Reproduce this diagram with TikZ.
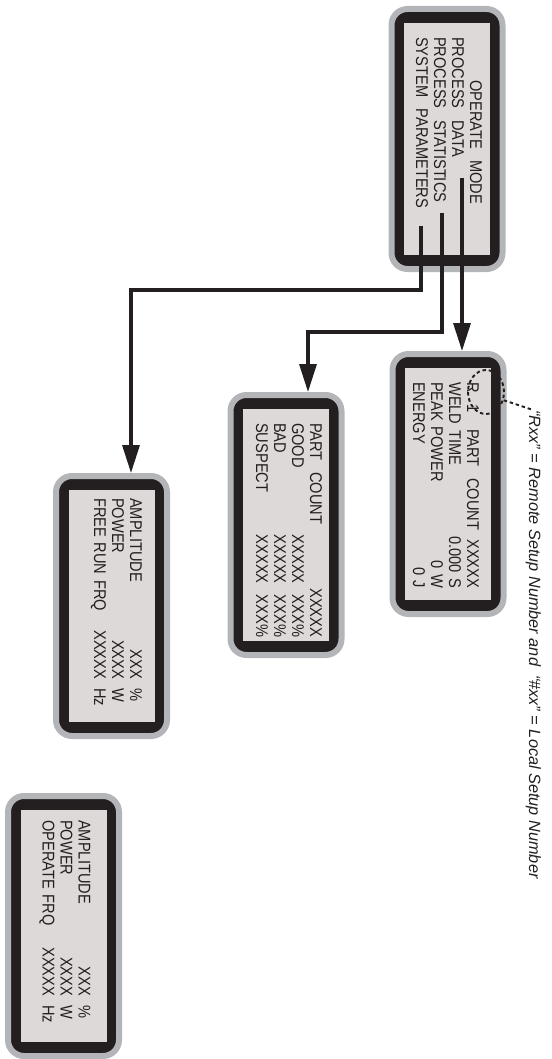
\documentclass[tikz,border=0pt]{standalone}
\usepackage{fontspec}
\setmainfont{Liberation Sans}
\newfontfamily\lcdfont[FakeStretch=0.86]{Liberation Sans}
\usepackage{xcolor}
\usetikzlibrary{arrows.meta,shapes.geometric}
\definecolor{lcdgrey}{RGB}{180,181,184}
\definecolor{lcdblack}{RGB}{35,31,32}
\definecolor{lcdface}{RGB}{221,217,217}

\begin{document}
\begin{tikzpicture}[x=1pt, y=-1pt,
    lcd/.style={rectangle, draw=lcdgrey, fill=lcdblack, line width=6pt, rounded corners=16pt, minimum width=111pt, minimum height=260pt},
    face/.style={rectangle, fill=lcdface, minimum width=86pt, minimum height=232pt, inner sep=0pt},
    txt/.style={rotate=-90, anchor=west, align=left, inner sep=0pt, text=lcdblack, font=\lcdfont\fontsize{17}{18}\selectfont},
    note/.style={rotate=-90, anchor=base west, inner sep=0pt, text=lcdblack, font=\itshape\fontsize{16.3}{18}\selectfont},
    conn/.style={draw=lcdblack, line width=3.2pt, -{Triangle[length=28pt,width=17pt]}},
    callout/.style={draw=lcdblack, line width=1.9pt, dash pattern=on 3.5pt off 2.8pt}
  ]
  \useasboundingbox (0,0) rectangle (551,1059);

  % display frames
  \node[lcd] (menuf) at (447,139) {};
  \node[lcd] (dataf) at (448,484) {};
  \node[lcd] (statsf) at (286,525) {};
  \node[lcd] (paramsf) at (111.5,606) {};
  \node[lcd] (frqf) at (63.5,926) {};

  \node[face] (menu) at (menuf) {};
  \node[face] (data) at (dataf) {};
  \node[face] (stats) at (statsf) {};
  \node[face] (params) at (paramsf) {};
  \node[face] (frq) at (frqf) {};

  % screen texts
  \node[txt, text width=210pt] (menutxt) at (449,37)
    {\hfill OPERATE\ \ MODE\hfill\null\\ PROCESS\ \ DATA\\ PROCESS\ \ STATISTICS\\ SYSTEM\ \ PARAMETERS};
  \node[txt, text width=206pt] (datatxt) at (446,382)
    {R\ \ 1\ \ \ PART\ \ COUNT\hfill XXXXX\\ WELD TIME\hfill 0.000 S\\ PEAK POWER\hfill 0 W\\ ENERGY\hfill 0 J};
  \node[txt, text width=214pt] (statstxt) at (289,423)
    {PART\ \ COUNT\hfill XXXXX\\ GOOD\hfill XXXXX\ \ XXX\%\\ BAD\hfill XXXXX\ \ XXX\%\\ SUSPECT\hfill XXXXX\ \ XXX\%};
  \node[txt, text width=205pt] (paramstxt) at (116.5,498)
    {AMPLITUDE\hfill XXX\hspace{9pt}\makebox[15pt][l]{\%}\\ POWER\hfill XXXX\hspace{9pt}\makebox[15pt][l]{W}\\ FREE RUN FRQ\hfill XXXXX\hspace{9pt}\makebox[15pt][l]{Hz}};
  \node[txt, text width=200pt] (frqtxt) at (65,820)
    {AMPLITUDE\hfill XXX\hspace{9pt}\makebox[15pt][l]{\%}\\ POWER\hfill XXXX\hspace{9pt}\makebox[15pt][l]{W}\\ OPERATE FRQ\hfill XXXXX\hspace{9pt}\makebox[15pt][l]{Hz}};

  % menu links
  \coordinate (pdat) at (462,178);
  \coordinate (pstat) at (442,213);
  \coordinate (ppar) at (421,226);
  \draw[conn] (pdat) -- (pdat |- dataf.north);
  \draw[conn] (pstat) -- ++(0,119) -| ([xshift=22pt]statsf.north);
  \draw[conn] (ppar) -- ++(0,64) -| ([xshift=19.5pt]paramsf.north);

  % setup number callout
  \node[callout, ellipse, minimum width=36pt, minimum height=44pt, inner sep=0pt] (rone) at (486,392) {};
  \node[note] (note) at (529,410) {“Rxx” = Remote Setup Number and\ \ “\#xx” = Local Setup Number};
  \draw[callout] (rone.-25) -- (note.west);
\end{tikzpicture}
\end{document}
